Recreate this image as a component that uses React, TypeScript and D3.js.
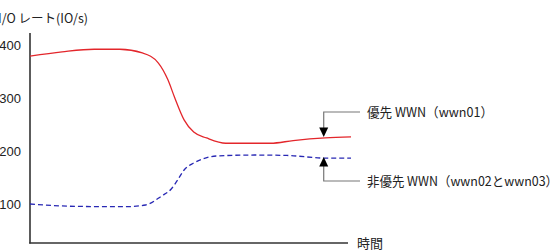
import React from "react";
import * as d3 from "d3";

const times = [0, 10, 20, 28, 35, 40, 43, 45, 48, 51, 55, 61, 75, 82, 92, 100];
const priorityValues = [379, 387, 392, 392, 385, 366, 334, 302, 259, 236, 225, 215, 215, 220, 225, 227];
const blueTimes = [0, 15, 30, 36, 41, 44, 46, 48, 51, 54, 58, 70, 80, 92, 100];
const nonPriorityValues = [100.6, 96, 95.5, 98.7, 115.6, 128.8, 145.8, 164.6, 177.8, 186, 191, 192.8, 192, 187, 187];
const yTicks = [100, 200, 300, 400];
const yTitle = "I/O レート(IO/s)";
const xTitle = "時間";
const priorityLabel = "優先 WWN（wwn01）";
const nonPriorityLabel = "非優先 WWN（wwn02とwwn03）";
const annotationTime = 91.5;

const W = 558;
const H = 251;

function interpAt(ts: number[], vs: number[], t: number) {
  for (let i = 1; i < ts.length; i++) {
    if (t <= ts[i]) {
      const f = (t - ts[i - 1]) / (ts[i] - ts[i - 1]);
      return vs[i - 1] + f * (vs[i] - vs[i - 1]);
    }
  }
  return vs[vs.length - 1];
}

export default function App() {
  const x = d3.scaleLinear().domain([0, 100]).range([30, 351]);
  const y = d3.scaleLinear().domain([0, 400]).range([257.4, 45]);
  const line = d3
    .line<[number, number]>()
    .x((d) => x(d[0]))
    .y((d) => y(d[1]))
    .curve(d3.curveMonotoneX);
  const red = line(times.map((t, i) => [t, priorityValues[i]]) as [number, number][]) || "";
  const blue = line(blueTimes.map((t, i) => [t, nonPriorityValues[i]]) as [number, number][]) || "";

  const ax = x(annotationTime);
  const redY = y(interpAt(times, priorityValues, annotationTime));
  const blueY = y(interpAt(blueTimes, nonPriorityValues, annotationTime));
  const font = "'Noto Sans CJK JP', 'Liberation Sans', sans-serif";
  const textColor = "#222";
  const annColor = "#777";

  return (
    <svg width={W} height={H} style={{ position: "absolute", left: 0, top: 0, background: "#fff" }}>
      <rect x={0} y={0} width={W} height={H} fill="#fff" />
      {/* axes */}
      <line x1={30} y1={33} x2={30} y2={243.5} stroke="#333" strokeWidth={1.6} />
      <line x1={29.2} y1={243} x2={348} y2={243} stroke="#333" strokeWidth={1.6} />
      {yTicks.map((t) => (
        <text
          key={t}
          x={21}
          y={y(t)}
          dy="0.36em"
          textAnchor="end"
          fontFamily="'Liberation Sans', sans-serif"
          fontSize={13}
          fill={textColor}
        >
          {t}
        </text>
      ))}
      <text x={-2} y={18} dy="0.36em" fontFamily={font} fontSize={12.5} fill={textColor} textLength={90} lengthAdjust="spacingAndGlyphs">
        {yTitle}
      </text>
      <text x={357} y={243} dy="0.36em" fontFamily={font} fontSize={13} fill={textColor}>
        {xTitle}
      </text>
      {/* series */}
      <path d={red} fill="none" stroke="#e3262b" strokeWidth={1.3} />
      <path d={blue} fill="none" stroke="#2828b4" strokeWidth={1.3} strokeDasharray="5,3" />
      {/* annotation: priority */}
      <polyline points={`360,112 ${ax},112 ${ax},${redY - 10}`} fill="none" stroke={annColor} strokeWidth={1.2} />
      <polygon points={`${ax - 4.5},${redY - 10.5} ${ax + 4.5},${redY - 10.5} ${ax},${redY - 1}`} fill="#000" />
      <text x={367} y={112} dy="0.36em" fontFamily={font} fontSize={13} fill={textColor} textLength={126} lengthAdjust="spacingAndGlyphs">
        {priorityLabel}
      </text>
      {/* annotation: non-priority */}
      <polyline points={`360,181 ${ax},181 ${ax},${blueY + 8}`} fill="none" stroke={annColor} strokeWidth={1.2} />
      <polygon points={`${ax - 4.5},${blueY + 8.5} ${ax + 4.5},${blueY + 8.5} ${ax},${blueY - 1}`} fill="#000" />
      <text x={367} y={181} dy="0.36em" fontFamily={font} fontSize={13} fill={textColor} textLength={191} lengthAdjust="spacingAndGlyphs">
        {nonPriorityLabel}
      </text>
    </svg>
  );
}
